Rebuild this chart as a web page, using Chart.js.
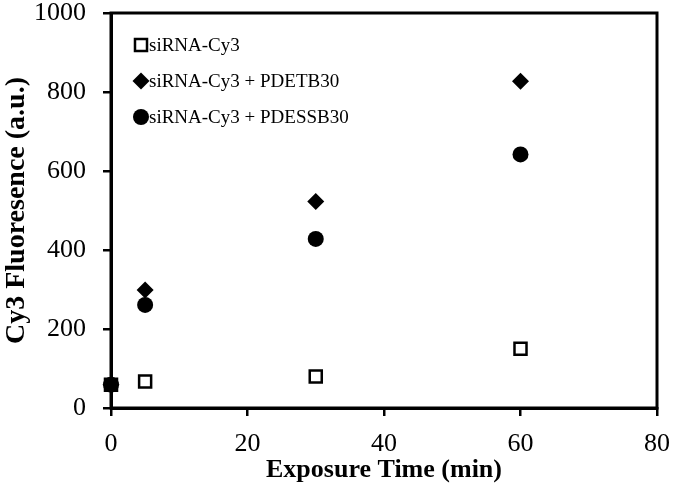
<!DOCTYPE html>
<html>
<head>
<meta charset="utf-8">
<script src="https://cdn.jsdelivr.net/npm/chart.js@4/dist/chart.umd.min.js"></script>
<style>
  body { margin: 0; background: #fff; }
  #wrap { width: 674px; height: 495px; }
</style>
</head>
<body>
<div id="wrap"><canvas id="chart" width="674" height="495"></canvas></div>
<script>
const times = [0, 5, 30, 60]
const seriesNames = ['siRNA-Cy3', 'siRNA-Cy3 + PDETB30', 'siRNA-Cy3 + PDESSB30']
const cy3Only = [59, 67, 80, 150]
const withTB30 = [59, 299, 523, 827]
const withSSB30 = [59, 261, 428, 642]
const xTicks = [0, 20, 40, 60, 80]
const yTicks = [0, 200, 400, 600, 800, 1000]

const SERIF = '"Liberation Serif", "Times New Roman", serif'
const toPoints = (vals) => vals.map((v, i) => ({ x: times[i], y: v }))

// box round the plot area
const frame = {
    id: 'frame',
    afterDraw(chart) {
        const { ctx, chartArea: a } = chart
        ctx.save()
        ctx.strokeStyle = '#000'
        ctx.lineWidth = 3
        ctx.strokeRect(a.left, a.top, a.right - a.left, a.bottom - a.top)
        ctx.restore()
    }
}

// legend sits inside the plot, top left
const innerLegend = {
    id: 'innerLegend',
    afterDraw(chart) {
        const { ctx } = chart
        const x = 141, y0 = 45, gap = 36
        ctx.save()
        chart.data.datasets.forEach((ds, i) => {
            const y = y0 + i * gap
            ctx.fillStyle = ds.backgroundColor
            ctx.strokeStyle = ds.borderColor
            ctx.lineWidth = ds.borderWidth
            Chart.helpers.drawPoint(ctx, { pointStyle: ds.pointStyle, radius: ds.pointRadius, borderWidth: ds.borderWidth }, x, y)
            ctx.fillStyle = '#000'
            ctx.font = '19px ' + SERIF
            ctx.textBaseline = 'middle'
            ctx.fillText(ds.label, 149, y + 1)
        })
        ctx.restore()
    }
}

new Chart(document.getElementById('chart'), {
    type: 'scatter',
    data: {
        datasets: [
            { label: seriesNames[0], data: toPoints(cy3Only), pointStyle: 'rect', pointRadius: 8.5, borderWidth: 2.5,
              backgroundColor: '#fff', borderColor: '#000', order: 2, clip: false },
            { label: seriesNames[1], data: toPoints(withTB30), pointStyle: 'rectRot', pointRadius: 8.5, borderWidth: 0,
              backgroundColor: '#000', borderColor: '#000', order: 1, clip: false },
            { label: seriesNames[2], data: toPoints(withSSB30), pointStyle: 'circle', pointRadius: 8, borderWidth: 0,
              backgroundColor: '#000', borderColor: '#000', order: 0, clip: false }
        ]
    },
    options: {
        responsive: false,
        animation: false,
        layout: { padding: { top: 13, right: 17, left: 0, bottom: 0 } },
        plugins: { legend: { display: false }, tooltip: { enabled: false } },
        scales: {
            x: {
                type: 'linear', min: 0, max: 80,
                afterFit: (s) => { s.height = 87; s.paddingLeft = 0; s.paddingRight = 0 },
                afterBuildTicks: (s) => { s.ticks = xTicks.map(v => ({ value: v })) },
                ticks: { color: '#000', padding: 13, font: { family: SERIF, size: 26 }, callback: (v) => String(v) },
                grid: { drawOnChartArea: false, drawTicks: true, tickLength: 8, color: '#000', lineWidth: 2.5 },
                border: { display: true, color: '#000', width: 3 },
                title: { display: true, text: 'Exposure Time (min)', color: '#000',
                         padding: { top: 0, bottom: 9 }, font: { family: SERIF, size: 26, weight: 'bold' } }
            },
            y: {
                type: 'linear', min: 0, max: 1000,
                afterFit: (s) => { s.width = 111; s.paddingTop = 0; s.paddingBottom = 0 },
                afterBuildTicks: (s) => { s.ticks = yTicks.map(v => ({ value: v })) },
                ticks: { color: '#000', padding: 17, font: { family: SERIF, size: 26 }, callback: (v) => String(v) },
                grid: { drawOnChartArea: false, drawTicks: true, tickLength: 8, color: '#000', lineWidth: 2.5 },
                border: { display: true, color: '#000', width: 3 },
                title: { display: true, text: 'Cy3 Fluoresence (a.u.)', color: '#000',
                         padding: 0, font: { family: SERIF, size: 28, weight: 'bold' } }
            }
        }
    },
    plugins: [frame, innerLegend]
})
</script>
</body>
</html>
